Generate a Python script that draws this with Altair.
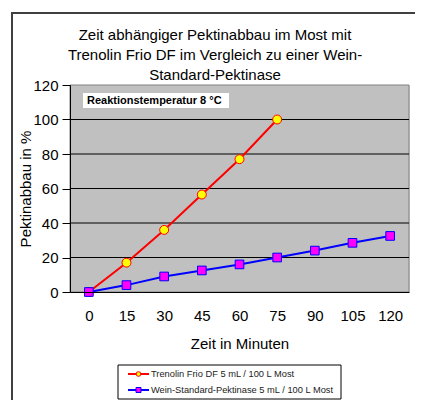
import altair as alt
import pandas as pd

minutes = [0, 15, 30, 45, 60, 75, 90, 105, 120]
trenolin = [0, 17, 36, 56.5, 77, 100]
standard = [0, 4, 9, 12.5, 16, 20, 24, 28.5, 32.5]
series_names = ["Trenolin Frio DF 5 mL / 100 L Most",
                "Wein-Standard-Pektinase 5 mL / 100 L Most"]
title_lines = ["Zeit abhängiger Pektinabbau im Most mit",
               "Trenolin Frio DF im Vergleich zu einer Wein-",
               "Standard-Pektinase"]
x_title = "Zeit in Minuten"
y_title = "Pektinabbau in %"
note = "Reaktionstemperatur 8 °C"
y_ticks = [0, 20, 40, 60, 80, 100, 120]
grid_vals = [20, 40, 60, 80, 100]

df_t = pd.DataFrame({"min": minutes[:len(trenolin)], "val": trenolin})
df_s = pd.DataFrame({"min": minutes, "val": standard})
df_g = pd.DataFrame({"val": grid_vals})
one = pd.DataFrame({"k": [0]})

W, H = 339, 207
FONT = "Liberation Sans"

x_scale = alt.Scale(domain=[-7.5, 127.5], nice=False, zero=False)
y_scale = alt.Scale(domain=[0, 120], nice=False)

x_enc = alt.X("min:Q", scale=x_scale,
              axis=alt.Axis(values=minutes, title=x_title, grid=False, ticks=False,
                            labelPadding=16, labelFontSize=15, labelColor="black",
                            labelFont=FONT, titleFont=FONT, titleFontSize=15,
                            titleFontWeight="normal", titleColor="black",
                            titleY=51, titleBaseline="middle", zindex=1,
                            domainColor="black", domainWidth=1, labelFlush=False))
y_enc = alt.Y("val:Q", scale=y_scale,
              axis=alt.Axis(values=y_ticks, title=y_title, grid=False,
                            tickSize=8, tickColor="black", zindex=1,
                            domainColor="black", labelPadding=4,
                            labelFontSize=15, labelColor="black", labelFont=FONT,
                            titleFont=FONT, titleFontSize=15, titleFontWeight="normal",
                            titleColor="black", titleX=-45, titleY=H / 2,
                            titleBaseline="middle"))

# outer frame: only its left and top edges fall inside the picture
frame = alt.Chart(one).mark_rect(fill="white", fillOpacity=0, stroke="#404040",
                                 strokeWidth=2).encode(
    x=alt.value(-58), x2=alt.value(W + 60), y=alt.value(-72), y2=alt.value(H + 200))

# plot background
plot_bg = alt.Chart(one).mark_rect(fill="#C0C0C0", stroke="#808080", strokeWidth=1).encode(
    x=alt.value(0), x2=alt.value(W), y=alt.value(0), y2=alt.value(H))
grid = alt.Chart(df_g).mark_rule(color="black", strokeWidth=1).encode(
    y=y_enc, x=alt.value(0), x2=alt.value(W))

red_line = alt.Chart(df_t).mark_line(color="#FF0000", strokeWidth=2).encode(x=x_enc, y=y_enc)
red_pts = alt.Chart(df_t).mark_point(shape="circle", filled=True, fill="#FFFF00",
                                     stroke="#FF0000", strokeWidth=1, size=80,
                                     opacity=1).encode(x=x_enc, y=y_enc)
blue_line = alt.Chart(df_s).mark_line(color="#0000FF", strokeWidth=2).encode(x=x_enc, y=y_enc)
blue_pts = alt.Chart(df_s).mark_point(shape="square", filled=True, fill="#FF00FF",
                                      stroke="#0000FF", strokeWidth=1, size=75,
                                      opacity=1).encode(x=x_enc, y=y_enc)

# annotation box
note_box = alt.Chart(one).mark_rect(fill="white").encode(
    x=alt.value(13), x2=alt.value(159), y=alt.value(8), y2=alt.value(23))
note_txt = alt.Chart(one).mark_text(text=note, font=FONT, fontSize=11, fontWeight="bold",
                                    align="left", baseline="middle", color="black").encode(
    x=alt.value(17), y=alt.value(15.5))

# title
title = alt.Chart(one).mark_text(text=title_lines, font=FONT, fontSize=15, lineHeight=20,
                                 align="center", baseline="middle", color="black").encode(
    x=alt.value(145), y=alt.value(-50.5))

# legend
leg_box = alt.Chart(one).mark_rect(fill="white", stroke="black", strokeWidth=1).encode(
    x=alt.value(48), x2=alt.value(271), y=alt.value(280), y2=alt.value(314))
leg_l1 = alt.Chart(one).mark_rule(color="#FF0000", strokeWidth=2).encode(
    x=alt.value(58), x2=alt.value(79), y=alt.value(289))
leg_p1 = alt.Chart(one).mark_point(shape="circle", filled=True, fill="#FFFF00",
                                   stroke="#FF0000", strokeWidth=1, size=22, opacity=1).encode(
    x=alt.value(68.5), y=alt.value(289))
leg_t1 = alt.Chart(one).mark_text(text=series_names[0], font=FONT, fontSize=9.3, align="left",
                                  baseline="middle", color="#222222").encode(
    x=alt.value(81), y=alt.value(289))
leg_l2 = alt.Chart(one).mark_rule(color="#0000FF", strokeWidth=2).encode(
    x=alt.value(58), x2=alt.value(79), y=alt.value(305))
leg_p2 = alt.Chart(one).mark_point(shape="square", filled=True, fill="#FF00FF",
                                   stroke="#0000FF", strokeWidth=1, size=25, opacity=1).encode(
    x=alt.value(68.5), y=alt.value(305))
leg_t2 = alt.Chart(one).mark_text(text=series_names[1], font=FONT, fontSize=9.3, align="left",
                                  baseline="middle", color="#222222").encode(
    x=alt.value(81), y=alt.value(305))

chart = alt.layer(
    frame, plot_bg, grid, red_line, red_pts, blue_line, blue_pts, note_box, note_txt, title,
    leg_box, leg_l1, leg_p1, leg_t1, leg_l2, leg_p2, leg_t2
).properties(
    width=W, height=H,
    autosize="none",
    padding={"left": 62, "top": 77, "right": 6, "bottom": 108},
    background="white",
).configure_view(stroke="transparent").configure(font=FONT)

chart.save("out.html", embed_options={"renderer": "svg", "actions": False})
